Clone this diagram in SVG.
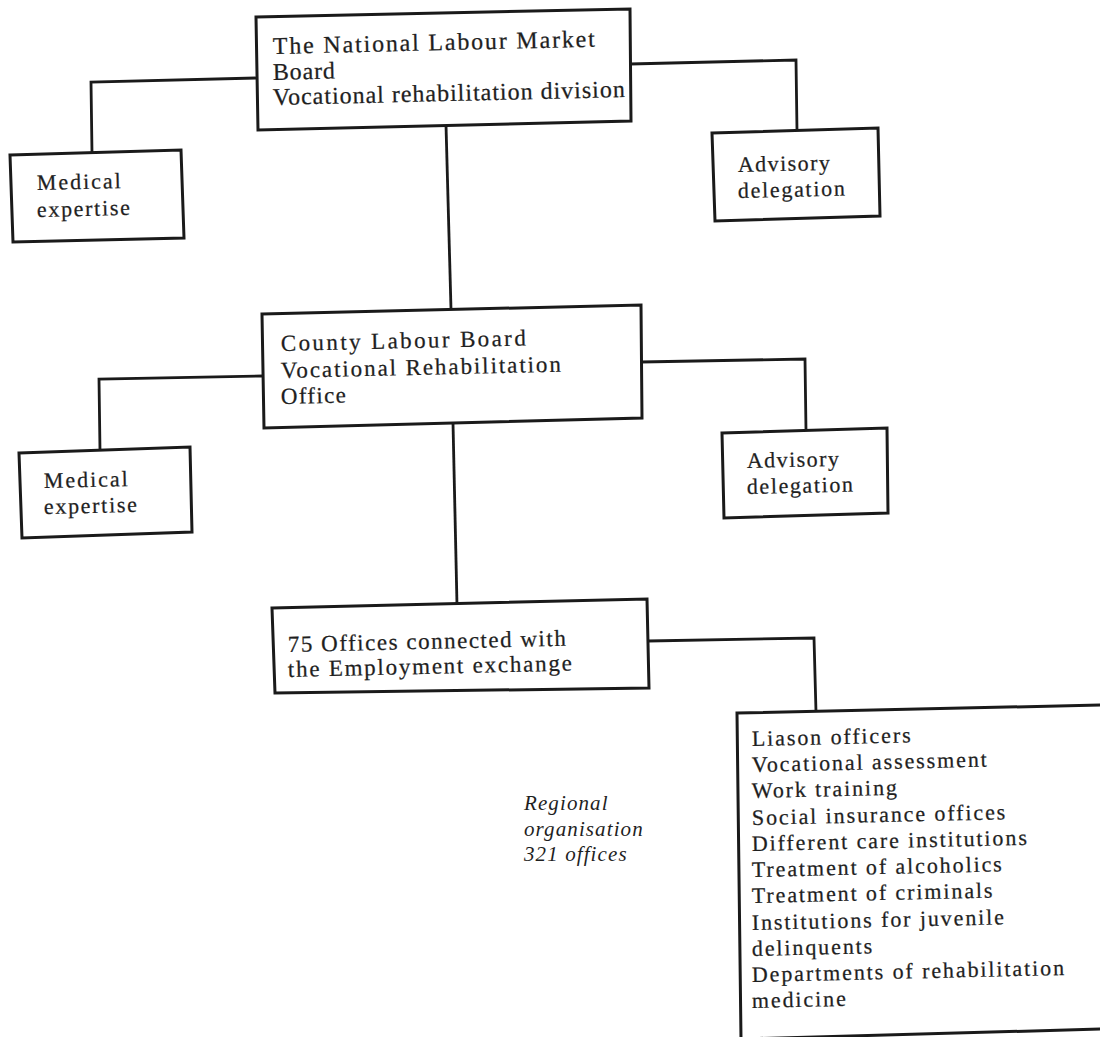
<svg xmlns="http://www.w3.org/2000/svg" width="1100" height="1037" viewBox="0 0 1100 1037">
<style>
  .bg { fill: #ffffff; }
  .box { fill: #ffffff; stroke: #1a1a1a; stroke-width: 3; stroke-linejoin: miter; }
  .conn { fill: none; stroke: #1a1a1a; stroke-width: 2.8; stroke-linejoin: miter; }
  .t { font-family: "Liberation Serif", "Times New Roman", serif; fill: #1f1f1f; stroke: #1f1f1f; stroke-width: 0.25; }
  .t24 { font-size: 24px; }
  .t23 { font-size: 23px; }
  .t22 { font-size: 22px; }
  .it { font-family: "Liberation Serif", "Times New Roman", serif; font-style: italic; font-size: 21px; fill: #1f1f1f; letter-spacing: 1.1px; }
</style>
<rect class="bg" x="0" y="0" width="1100" height="1037"/>

<g id="connectors">
  <polyline class="conn" points="257,78 91,82 92,153"/>
  <polyline class="conn" points="630,64 796,60 797,131"/>
  <polyline class="conn" points="446,125 451,309"/>
  <polyline class="conn" points="263,376 99,379 100,451"/>
  <polyline class="conn" points="641,362 805,359 806,431"/>
  <polyline class="conn" points="453,423 457,605"/>
  <polyline class="conn" points="648,641 814,638 816,712"/>
</g>

<g id="national-board">
  <polygon class="box" points="256,17 630,9 631,121 258,130"/>
  <text class="t t24" x="273" y="54" transform="rotate(-1.3 273 54)" textLength="322" lengthAdjust="spacing">The National Labour Market</text>
  <text class="t t24" x="273" y="80" transform="rotate(-1.3 273 80)" textLength="62" lengthAdjust="spacing">Board</text>
  <text class="t t24" x="273" y="105" transform="rotate(-1.3 273 105)" textLength="352" lengthAdjust="spacing">Vocational rehabilitation division</text>
</g>

<g id="medical-1">
  <polygon class="box" points="10,155 181,150 184,238 13,242"/>
  <text class="t t22" x="37" y="190" transform="rotate(-1.3 37 190)" textLength="84" lengthAdjust="spacing">Medical</text>
  <text class="t t22" x="37" y="217" transform="rotate(-1.3 37 217)" textLength="93" lengthAdjust="spacing">expertise</text>
</g>

<g id="advisory-1">
  <polygon class="box" points="712,133 878,128 880,216 715,221"/>
  <text class="t t22" x="738" y="172" transform="rotate(-1.3 738 172)" textLength="92" lengthAdjust="spacing">Advisory</text>
  <text class="t t22" x="738" y="198" transform="rotate(-1.3 738 198)" textLength="107" lengthAdjust="spacing">delegation</text>
</g>

<g id="county-board">
  <polygon class="box" points="262,314 641,305 642,418 264,428"/>
  <text class="t t23" x="281" y="351" transform="rotate(-1.3 281 351)" textLength="245" lengthAdjust="spacing">County Labour Board</text>
  <text class="t t23" x="281" y="378" transform="rotate(-1.3 281 378)" textLength="280" lengthAdjust="spacing">Vocational Rehabilitation</text>
  <text class="t t23" x="281" y="404" transform="rotate(-1.3 281 404)" textLength="65" lengthAdjust="spacing">Office</text>
</g>

<g id="medical-2">
  <polygon class="box" points="19,453 190,447 192,532 22,538"/>
  <text class="t t22" x="44" y="488" transform="rotate(-1.3 44 488)" textLength="84" lengthAdjust="spacing">Medical</text>
  <text class="t t22" x="44" y="514" transform="rotate(-1.3 44 514)" textLength="93" lengthAdjust="spacing">expertise</text>
</g>

<g id="advisory-2">
  <polygon class="box" points="722,433 887,428 888,513 724,518"/>
  <text class="t t22" x="747" y="468" transform="rotate(-1.3 747 468)" textLength="92" lengthAdjust="spacing">Advisory</text>
  <text class="t t22" x="747" y="494" transform="rotate(-1.3 747 494)" textLength="106" lengthAdjust="spacing">delegation</text>
</g>

<g id="offices-75">
  <polygon class="box" points="272,608 647,599 649,688 275,693"/>
  <text class="t t23" x="288" y="652" transform="rotate(-1.3 288 652)" textLength="278" lengthAdjust="spacing">75 Offices connected with</text>
  <text class="t t23" x="288" y="677" transform="rotate(-1.3 288 677)" textLength="284" lengthAdjust="spacing">the Employment exchange</text>
</g>

<g id="regional-note">
  <text class="it" x="524" y="810">Regional</text>
  <text class="it" x="524" y="836">organisation</text>
  <text class="it" x="524" y="861">321 offices</text>
</g>

<g id="services-list">
  <polygon class="box" points="737,713 1102,705 1102,1029 741,1039"/>
  <g class="t t22" letter-spacing="1.9">
    <text x="752" y="746" transform="rotate(-1.3 752 746)">Liason officers</text>
    <text x="752" y="772" transform="rotate(-1.3 752 772)">Vocational assessment</text>
    <text x="752" y="798" transform="rotate(-1.3 752 798)">Work training</text>
    <text x="752" y="825" transform="rotate(-1.3 752 825)">Social insurance offices</text>
    <text x="752" y="851" transform="rotate(-1.3 752 851)">Different care institutions</text>
    <text x="752" y="877" transform="rotate(-1.3 752 877)">Treatment of alcoholics</text>
    <text x="752" y="903" transform="rotate(-1.3 752 903)">Treatment of criminals</text>
    <text x="752" y="930" transform="rotate(-1.3 752 930)">Institutions for juvenile</text>
    <text x="752" y="956" transform="rotate(-1.3 752 956)">delinquents</text>
    <text x="752" y="982" transform="rotate(-1.3 752 982)">Departments of rehabilitation</text>
    <text x="752" y="1008" transform="rotate(-1.3 752 1008)">medicine</text>
  </g>
</g>
</svg>
